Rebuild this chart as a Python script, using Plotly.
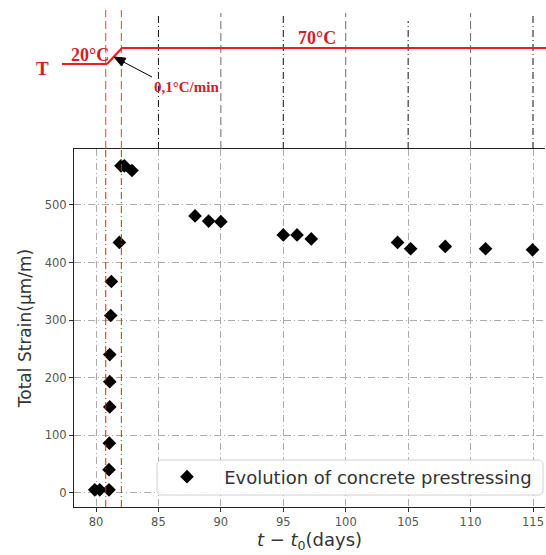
import math
import plotly.graph_objects as go

# ---------------- data ----------------
days = [79.9, 80.3, 81.04, 81.04, 81.07, 81.1, 81.1, 81.1, 81.18, 81.23,
        81.87, 82.0, 82.27, 82.88,
        87.93, 89.02, 90.0, 95.0, 96.1, 97.24,
        104.15, 105.2, 107.97, 111.2, 114.96]
strain = [5, 5, 5, 40, 86, 149, 193, 240, 308, 367,
          435, 568, 568, 560,
          481, 472, 471, 448, 448, 441,
          435, 424, 428, 424, 422]
series_name = "Evolution of concrete prestressing"
x_ticks = [80, 85, 90, 95, 100, 105, 110, 115]
y_ticks = [0, 100, 200, 300, 400, 500]
heating_window = [80.78, 82.03]          # red vertical markers (days)
temp_labels = ["20°C", "70°C"]
rate_label = "0,1°C/min"

# ---------------- layout geometry (pixels) ----------------
W, H = 546, 555
L, R, T, B = 74, 545, 149, 507
X_RANGE = [78.238, 115.96]
Y_RANGE = [-24.9, 597.3]


def px(x):
    return (x - L) / (R - L)


def py(y):
    return (B - y) / (B - T)


RED_LINE = "#ec1c24"
RED_TXT = "#d0202a"
GRID = "#ababab"

fig = go.Figure()
fig.add_trace(go.Scatter(
    x=days, y=strain, mode="markers",
    name="\u00a0\u00a0\u00a0" + series_name,
    marker=dict(symbol="diamond", size=10.5, color="black",
                line=dict(width=0)),
))

shapes = []
# vertical guide lines above the plot (extensions of x grid)
for i, xv in enumerate(x_ticks[1:]):
    dark = i % 2 == 0
    y_top = 21 if xv == 105 else 13
    shapes.append(dict(type="line", xref="x", yref="paper",
                       x0=xv, x1=xv, y0=1, y1=py(y_top),
                       line=dict(color="#111111" if dark else "#6a6a6a",
                                 width=1,
                                 dash="7px,3px,1px,3px" if dark else "8px,4px")))
# red heating window lines
for xv in heating_window:
    shapes.append(dict(type="line", xref="x", yref="paper",
                       x0=xv, x1=xv, y0=0, y1=1,
                       line=dict(color="#d62728", width=1,
                                 dash="7px,3px,1px,3px")))
    shapes.append(dict(type="line", xref="x", yref="paper",
                       x0=xv, x1=xv, y0=1, y1=py(10),
                       line=dict(color="#e0404a", width=1, dash="8px,4px")))
# temperature profile
temp_path = [(62, 64), (107, 64), (122, 48), (546, 48)]
for (xa, ya), (xb, yb) in zip(temp_path[:-1], temp_path[1:]):
    shapes.append(dict(type="line", xref="paper", yref="paper",
                       x0=px(xa), x1=px(xb), y0=py(ya), y1=py(yb),
                       line=dict(color=RED_LINE, width=2.2)))

# arrow pointing at the heating ramp
tail, tip = (152, 77), (114, 57)
dx, dy = tip[0] - tail[0], tip[1] - tail[1]
n = math.hypot(dx, dy)
ux, uy = dx / n, dy / n
hl, hw = 11, 4.5
bx, by = tip[0] - hl * ux, tip[1] - hl * uy
shapes.append(dict(type="line", xref="paper", yref="paper",
                   x0=px(tail[0]), y0=py(tail[1]), x1=px(bx), y1=py(by),
                   line=dict(color="black", width=1)))
p1 = (bx - hw * uy, by + hw * ux)
p2 = (bx + hw * uy, by - hw * ux)
shapes.append(dict(type="path", xref="paper", yref="paper",
                   path=f"M{px(tip[0])},{py(tip[1])} L{px(p1[0])},{py(p1[1])} "
                        f"L{px(p2[0])},{py(p2[1])} Z",
                   fillcolor="black", line=dict(color="black", width=1)))

# legend frame (rounded box, drawn above the grid)
lx0, lx1, ly0, ly1, rr = 157, 543, 460, 495, 4
k = 0.45 * rr
pts = [
    f"M{px(lx0 + rr)},{py(ly0)}",
    f"L{px(lx1 - rr)},{py(ly0)}",
    f"C{px(lx1 - rr + k)},{py(ly0)} {px(lx1)},{py(ly0 + rr - k)} {px(lx1)},{py(ly0 + rr)}",
    f"L{px(lx1)},{py(ly1 - rr)}",
    f"C{px(lx1)},{py(ly1 - rr + k)} {px(lx1 - rr + k)},{py(ly1)} {px(lx1 - rr)},{py(ly1)}",
    f"L{px(lx0 + rr)},{py(ly1)}",
    f"C{px(lx0 + rr - k)},{py(ly1)} {px(lx0)},{py(ly1 - rr + k)} {px(lx0)},{py(ly1 - rr)}",
    f"L{px(lx0)},{py(ly0 + rr)}",
    f"C{px(lx0)},{py(ly0 + rr - k)} {px(lx0 + rr - k)},{py(ly0)} {px(lx0 + rr)},{py(ly0)}",
    "Z",
]
shapes.append(dict(type="path", xref="paper", yref="paper", path=" ".join(pts),
                   fillcolor="rgba(255,255,255,0.9)", layer="above",
                   line=dict(color="#d0d0d0", width=1)))


def label(text, x, y, size):
    return dict(text="<b>" + text + "</b>", x=px(x), y=py(y),
                xref="paper", yref="paper", xanchor="center", yanchor="middle",
                showarrow=False,
                font=dict(family="Liberation Serif", size=size, color=RED_TXT))


annotations = [
    label("T", 42, 68, 19),
    label(temp_labels[0], 90, 55, 18),
    label(temp_labels[1], 317, 38, 18),
    label(rate_label, 186, 87, 15),
]

axis_common = dict(
    showline=True, linecolor="#222222", linewidth=1,
    ticks="outside", ticklen=4, tickcolor="#333333", tickwidth=1,
    showgrid=True, gridcolor=GRID, gridwidth=1, griddash="7px,3px,1px,3px",
    zeroline=False,
    tickfont=dict(family="DejaVu Sans", size=11.5, color="#555555"),
)

fig.update_layout(
    width=W, height=H,
    margin=dict(l=L, r=W - R, t=T, b=H - B, pad=0),
    paper_bgcolor="white", plot_bgcolor="white",
    shapes=shapes, annotations=annotations,
    showlegend=True,
    legend=dict(x=px(167), y=py(477), xanchor="left", yanchor="middle",
                bgcolor="rgba(0,0,0,0)", borderwidth=0,
                font=dict(family="DejaVu Sans", size=18, color="#333333")),
    xaxis=dict(range=X_RANGE, tickvals=x_ticks, mirror=True,
               title=dict(text="<i>t</i> − <i>t</i><sub>0</sub>(days)", standoff=2,
                          font=dict(family="DejaVu Sans", size=18, color="#333333")),
               **axis_common),
    yaxis=dict(range=Y_RANGE, tickvals=y_ticks,
               title=dict(text="Total Strain(μm/m)", standoff=8,
                          font=dict(family="DejaVu Sans", size=17, color="#333333")),
               **axis_common),
)

fig.write_html("out.html", config={"displayModeBar": False},
               post_script="document.body.style.margin='0px';"
                           "document.body.style.overflow='hidden';")
